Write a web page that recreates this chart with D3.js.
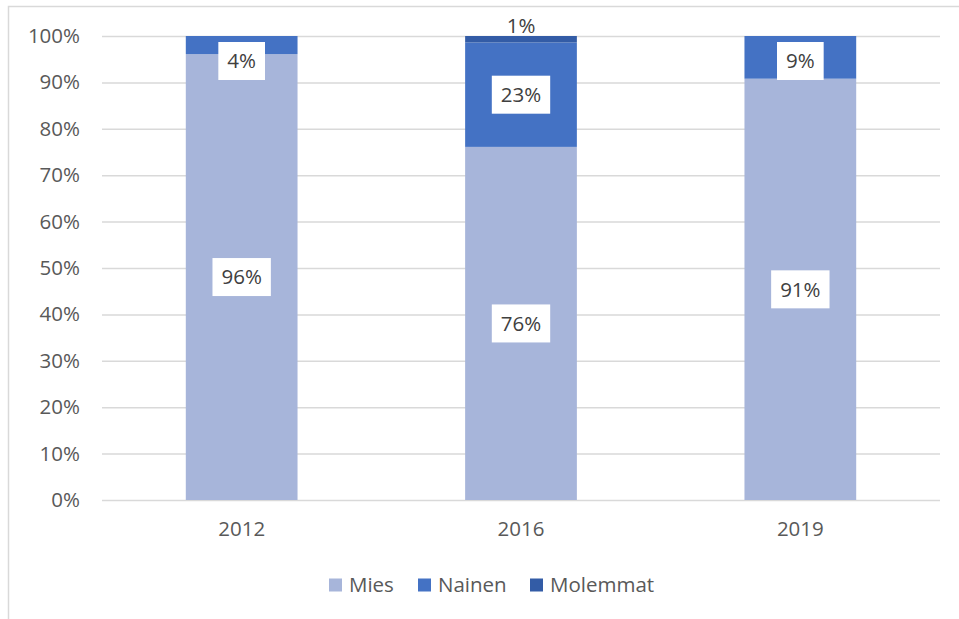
<!DOCTYPE html>
<html>
<head>
<meta charset="utf-8">
<script src="https://cdn.jsdelivr.net/npm/d3@7"></script>
<style>
  body { margin: 0; background: #fff; }
  text { font-family: "Open Sans", "Noto Sans", sans-serif; }
</style>
</head>
<body>
<div id="chart"></div>
<script>
const years = ["2012", "2016", "2019"];
const seriesNames = ["Mies", "Nainen", "Molemmat"];
const mies = [96.1, 76.1, 90.8];
const nainen = [3.9, 22.5, 9.2];
const molemmat = [0, 1.4, 0];
const yTicks = [0, 10, 20, 30, 40, 50, 60, 70, 80, 90, 100];
const colors = ["#a7b5da", "#4472c4", "#335ca6"];

(function () {
  const width = 959, height = 619;
  const margin = {top: 36, right: 19, bottom: 119, left: 102};
  const innerW = width - margin.left - margin.right;
  const innerH = height - margin.top - margin.bottom;
  const fontSize = "20.5px";

  const rows = years.map((y, i) => ({year: y, Mies: mies[i], Nainen: nainen[i], Molemmat: molemmat[i]}));
  const stacked = d3.stack().keys(seriesNames)(rows);

  const svg = d3.select("#chart").append("svg")
    .attr("width", width)
    .attr("height", height);

  // outer chart border (left and top visible)
  svg.append("path")
    .attr("d", `M8.5,${height} V6.5 H${width}`)
    .attr("fill", "none")
    .attr("stroke", "#d9d9d9")
    .attr("stroke-width", 1.5);

  const g = svg.append("g").attr("transform", `translate(${margin.left},${margin.top})`);

  const x = d3.scaleBand().domain(years).range([0, innerW]).paddingInner(0.6).paddingOuter(0.3);
  const y = d3.scaleLinear().domain([0, 100]).range([innerH, 0]);

  // gridlines + y axis
  const yAxis = g.append("g")
    .call(d3.axisLeft(y).tickValues(yTicks).tickSize(-innerW).tickFormat(d => d + "%").tickPadding(22));
  yAxis.select(".domain").remove();
  yAxis.selectAll(".tick line").attr("stroke", "#d9d9d9").attr("stroke-width", 1.5);
  yAxis.selectAll(".tick text")
    .attr("fill", "#595959")
    .style("font-size", fontSize);

  // x axis labels
  const xAxis = g.append("g")
    .attr("transform", `translate(0,${innerH})`)
    .call(d3.axisBottom(x).tickSize(0).tickPadding(21));
  xAxis.select(".domain").remove();
  xAxis.selectAll(".tick text")
    .attr("fill", "#595959")
    .style("font-size", fontSize);

  // bars
  const layers = g.selectAll(".layer").data(stacked).enter().append("g")
    .attr("class", "layer")
    .attr("fill", (d, i) => colors[i]);

  layers.selectAll("rect").data(d => d).enter().append("rect")
    .attr("x", d => x(d.data.year))
    .attr("width", x.bandwidth())
    .attr("y", d => y(d[1]))
    .attr("height", d => y(d[0]) - y(d[1]));

  // data labels
  const labels = [];
  stacked.forEach(s => {
    s.forEach(d => {
      const v = d[1] - d[0];
      if (v <= 0) return;
      labels.push({key: s.key, year: d.data.year, v: v, y0: y(d[0]), y1: y(d[1])});
    });
  });

  const boxH = 38, padX = 9;
  labels.forEach(l => {
    const cx = x(l.year) + x.bandwidth() / 2;
    const txt = Math.round(l.v) + "%";
    const segH = l.y0 - l.y1;
    const lg = g.append("g");
    if (segH < 10) {
      // too thin: label sits just above the bar
      lg.append("text")
        .attr("x", cx)
        .attr("y", l.y1 - 3)
        .attr("text-anchor", "middle")
        .attr("fill", "#404040")
        .style("font-size", fontSize)
        .text(txt);
      return;
    }
    let cy = (l.y0 + l.y1) / 2;
    cy = Math.max(cy, y(100) + 6 + boxH / 2);
    const t = lg.append("text")
      .attr("x", cx)
      .attr("y", cy)
      .attr("dy", "0.35em")
      .attr("text-anchor", "middle")
      .attr("fill", "#404040")
      .style("font-size", fontSize)
      .text(txt);
    const bb = t.node().getBBox();
    lg.insert("rect", "text")
      .attr("x", bb.x - padX)
      .attr("y", cy - boxH / 2)
      .attr("width", bb.width + 2 * padX)
      .attr("height", boxH)
      .attr("fill", "#fff");
  });

  // legend
  const legendX = [329, 418, 530];
  const legend = svg.append("g").attr("transform", "translate(0,585)");
  const items = legend.selectAll("g").data(seriesNames).enter().append("g")
    .attr("transform", (d, i) => `translate(${legendX[i]},0)`);
  items.append("rect")
    .attr("x", 0).attr("y", -6.5)
    .attr("width", 13).attr("height", 13)
    .attr("fill", (d, i) => colors[i]);
  items.append("text")
    .attr("x", 20)
    .attr("dy", "0.35em")
    .attr("fill", "#595959")
    .style("font-size", fontSize)
    .text(d => d);
})();
</script>
</body>
</html>
